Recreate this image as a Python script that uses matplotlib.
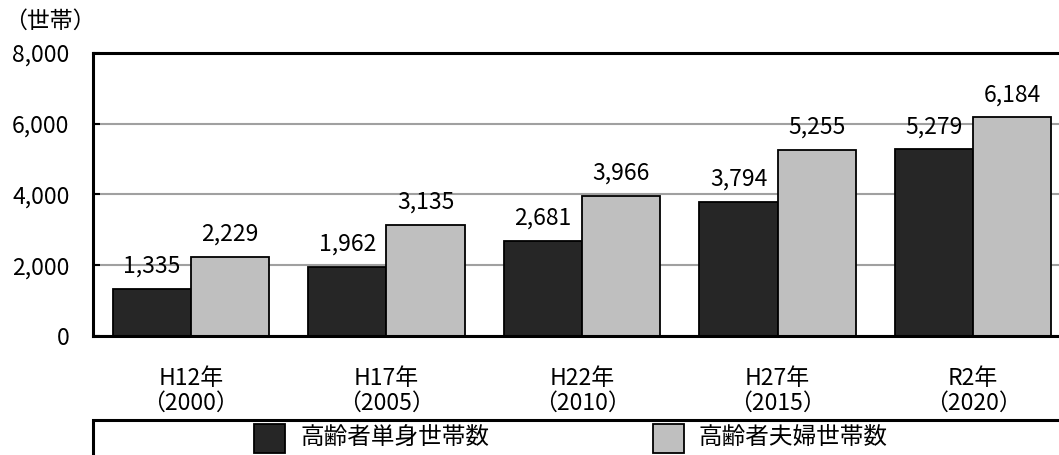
import matplotlib
matplotlib.use("Agg")
from matplotlib import pyplot as plt
from matplotlib.patches import Rectangle
import numpy as np

plt.rcParams["font.family"] = ["Noto Sans CJK JP", "DejaVu Sans"]

years = ["H12年\n（2000）", "H17年\n（2005）", "H22年\n（2010）", "H27年\n（2015）", "R2年\n（2020）"]
single = [1335, 1962, 2681, 3794, 5279]
couple = [2229, 3135, 3966, 5255, 6184]
series_names = ["高齢者単身世帯数", "高齢者夫婦世帯数"]
dark = "#262626"
light = "#bfbfbf"

W, H = 1059, 455
fig = plt.figure(figsize=(W / 100, H / 100), dpi=100)
# axes runs past the right edge of the picture, like the original
ax = fig.add_axes([93 / W, (H - 336) / H, (1071 - 93) / W, (336 - 53) / H])

x = np.arange(len(years))
w = 0.4
b1 = ax.bar(x - w / 2, single, w, color=dark, edgecolor="black", linewidth=1.3, zorder=3)
b2 = ax.bar(x + w / 2, couple, w, color=light, edgecolor="black", linewidth=1.3, zorder=3)

for bars, vals in ((b1, single), (b2, couple)):
    for r, v in zip(bars, vals):
        ax.annotate("{:,}".format(v), (r.get_x() + r.get_width() / 2, v),
                    xytext=(0, 8), textcoords="offset points",
                    ha="center", va="bottom", fontsize=16.5, zorder=4)

ax.set_xlim(-0.5, 4.5)
ax.set_ylim(0, 8000)
ax.set_yticks([0, 2000, 4000, 6000, 8000])
ax.set_yticklabels(["{:,}".format(t) for t in [0, 2000, 4000, 6000, 8000]], fontsize=16.5)
ax.set_xticks(x)
ax.set_xticklabels(years, fontsize=16.5, linespacing=1.1)
ax.yaxis.grid(True, color="#a0a0a0", linewidth=1.5, zorder=0)
ax.tick_params(axis="y", direction="in", length=5, width=1.5, pad=17)
ax.tick_params(axis="x", length=0, pad=22)
ax.spines["right"].set_visible(False)
for s in ("left", "top", "bottom"):
    ax.spines[s].set_linewidth(2.2)
    ax.spines[s].set_zorder(5)

fig.text(4 / W, 1 - 21 / H, "（世帯）", fontsize=16.5, ha="left", va="center")

# legend box, running off the bottom and right of the picture
fig.add_artist(Rectangle((93 / W, -0.05), 1.0, (H - 420) / H + 0.05,
                         transform=fig.transFigure, facecolor="white",
                         edgecolor="black", linewidth=2.2))
for x0, col, name in ((254, dark, series_names[0]), (653, light, series_names[1])):
    fig.add_artist(Rectangle((x0 / W, (H - 453) / H), 31 / W, 29 / H,
                             transform=fig.transFigure, facecolor=col,
                             edgecolor="black", linewidth=1.3))
    fig.text((x0 + 46) / W, 1 - 438 / H, name, fontsize=17, ha="left", va="center")

fig.savefig("out.png", dpi=100)
